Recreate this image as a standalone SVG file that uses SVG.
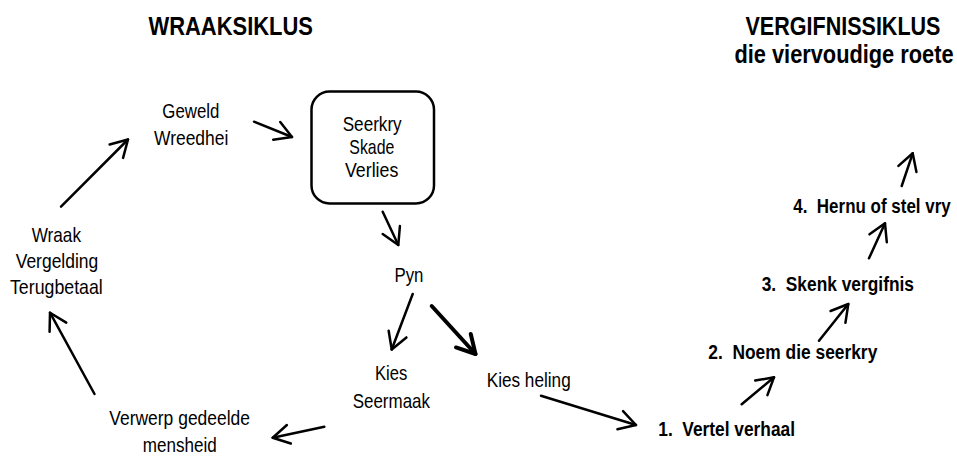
<svg xmlns="http://www.w3.org/2000/svg" width="957" height="457" viewBox="0 0 957 457">
<style>
text{font-family:"Liberation Sans",Arial,sans-serif;fill:#000}
.r{font-size:20px}
.b{font-size:21px;font-weight:bold}
.t{font-size:26px;font-weight:bold}
.c line{stroke:#000;stroke-width:2.5;stroke-linecap:round;fill:none}
.c line.thick{stroke-width:4}
</style>
<defs>
<marker id="ah" markerUnits="userSpaceOnUse" viewBox="-22 -13 26 26" markerWidth="26" markerHeight="26" refX="0" refY="0" orient="auto" overflow="visible">
<path d="M-16.5,-9.5 L0,0 L-16.5,9.5" fill="none" stroke="#000" stroke-width="2.5" stroke-linecap="round" stroke-linejoin="round"/>
</marker>
<marker id="ahT" markerUnits="userSpaceOnUse" viewBox="-22 -13 26 26" markerWidth="26" markerHeight="26" refX="0" refY="0" orient="auto" overflow="visible">
<path d="M-18,-10 L0,0 L-18,10" fill="none" stroke="#000" stroke-width="4" stroke-linecap="round" stroke-linejoin="round"/>
</marker>
</defs>
<rect width="957" height="457" fill="#fff"/>

<g id="title-wraak"><text class="t" transform="translate(148.5,35) scale(0.84,1)" textLength="195.8" lengthAdjust="spacingAndGlyphs">WRAAKSIKLUS</text></g>
<g id="title-vergifnis">
<text class="t" transform="translate(745.5,35) scale(0.84,1)" textLength="232.1" lengthAdjust="spacingAndGlyphs">VERGIFNISSIKLUS</text>
<text class="t" transform="translate(734.5,63) scale(0.84,1)" textLength="260.7" lengthAdjust="spacingAndGlyphs">die viervoudige roete</text>
</g>

<g id="geweld">
<text class="r" transform="translate(162.3,117.5) scale(0.84,1)" textLength="67.9" lengthAdjust="spacingAndGlyphs">Geweld</text>
<text class="r" transform="translate(154,144.5) scale(0.84,1)" textLength="88.5" lengthAdjust="spacingAndGlyphs">Wreedhei</text>
</g>
<g id="seerkry">
<rect x="311.5" y="91.5" width="122.5" height="112" rx="18" ry="18" fill="none" stroke="#000" stroke-width="2.5"/>
<text class="r" transform="translate(342.7,131) scale(0.84,1)" textLength="70.2" lengthAdjust="spacingAndGlyphs">Seerkry</text>
<text class="r" transform="translate(349.3,154) scale(0.84,1)" textLength="53.6" lengthAdjust="spacingAndGlyphs">Skade</text>
<text class="r" transform="translate(345,177) scale(0.84,1)" textLength="63.5" lengthAdjust="spacingAndGlyphs">Verlies</text>
</g>
<g id="wraak">
<text class="r" transform="translate(31.7,242) scale(0.84,1)" textLength="58.7" lengthAdjust="spacingAndGlyphs">Wraak</text>
<text class="r" transform="translate(15.7,268) scale(0.84,1)" textLength="98.3" lengthAdjust="spacingAndGlyphs">Vergelding</text>
<text class="r" transform="translate(10,294) scale(0.84,1)" textLength="110.4" lengthAdjust="spacingAndGlyphs">Terugbetaal</text>
</g>
<g id="pyn"><text class="r" transform="translate(394.5,282) scale(0.84,1)" textLength="34.5" lengthAdjust="spacingAndGlyphs">Pyn</text></g>
<g id="kies-seermaak">
<text class="r" transform="translate(375,380) scale(0.84,1)" textLength="38.5" lengthAdjust="spacingAndGlyphs">Kies</text>
<text class="r" transform="translate(352.7,408) scale(0.84,1)" textLength="92" lengthAdjust="spacingAndGlyphs">Seermaak</text>
</g>
<g id="kies-heling"><text class="r" transform="translate(486.7,387) scale(0.84,1)" textLength="100" lengthAdjust="spacingAndGlyphs">Kies heling</text></g>
<g id="verwerp">
<text class="r" transform="translate(109.3,425) scale(0.84,1)" textLength="167.5" lengthAdjust="spacingAndGlyphs">Verwerp gedeelde</text>
<text class="r" transform="translate(142.7,452) scale(0.84,1)" textLength="88.1" lengthAdjust="spacingAndGlyphs">mensheid</text>
</g>
<g id="stap1"><text class="b" transform="translate(658.3,436) scale(0.84,1)" textLength="162.7" lengthAdjust="spacingAndGlyphs" xml:space="preserve">1.  Vertel verhaal</text></g>
<g id="stap2"><text class="b" transform="translate(708.3,359) scale(0.84,1)" textLength="201.2" lengthAdjust="spacingAndGlyphs" xml:space="preserve">2.  Noem die seerkry</text></g>
<g id="stap3"><text class="b" transform="translate(761.7,290.5) scale(0.84,1)" textLength="181.3" lengthAdjust="spacingAndGlyphs" xml:space="preserve">3.  Skenk vergifnis</text></g>
<g id="stap4"><text class="b" transform="translate(793.3,213) scale(0.84,1)" textLength="187.4" lengthAdjust="spacingAndGlyphs" xml:space="preserve">4.  Hernu of stel vry</text></g>

<g id="connectors" class="c">
<line x1="61" y1="206.7" x2="128" y2="139.5" marker-end="url(#ah)"/>
<line x1="254" y1="121.7" x2="292" y2="137" marker-end="url(#ah)"/>
<line x1="382.7" y1="211.7" x2="398.3" y2="245" marker-end="url(#ah)"/>
<line x1="412.7" y1="294" x2="391.7" y2="349.5" marker-end="url(#ah)"/>
<line class="thick" x1="431.7" y1="306" x2="475.5" y2="354" marker-end="url(#ahT)"/>
<line x1="541" y1="395.7" x2="636" y2="425" marker-end="url(#ah)"/>
<line x1="741.7" y1="404.3" x2="774" y2="377.3" marker-end="url(#ah)"/>
<line x1="819" y1="340.7" x2="848.3" y2="304" marker-end="url(#ah)"/>
<line x1="869" y1="258.3" x2="885" y2="223.3" marker-end="url(#ah)"/>
<line x1="901.7" y1="186" x2="912.7" y2="153.3" marker-end="url(#ah)"/>
<line x1="324.3" y1="426.7" x2="272.7" y2="437.7" marker-end="url(#ah)"/>
<line x1="94.5" y1="394" x2="50" y2="312.7" marker-end="url(#ah)"/>
</g>
</svg>
